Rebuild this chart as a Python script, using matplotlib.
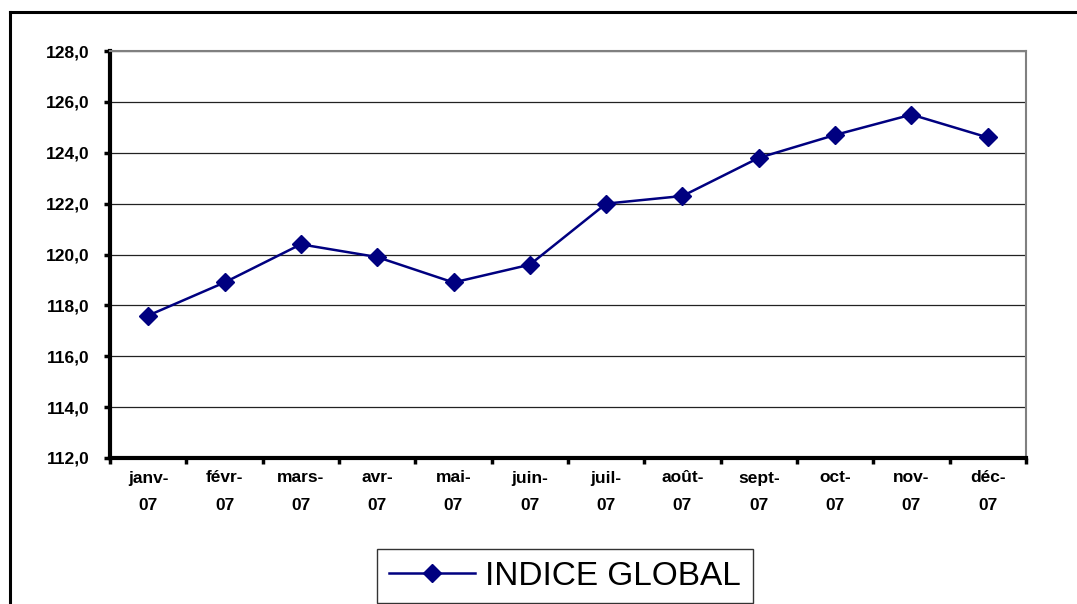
import matplotlib
matplotlib.use("Agg")
import matplotlib.pyplot as plt
from matplotlib.lines import Line2D
import numpy as np

MONTHS = ["janv-\n07", "févr-\n07", "mars-\n07", "avr-\n07", "mai-\n07", "juin-\n07",
          "juil-\n07", "août-\n07", "sept-\n07", "oct-\n07", "nov-\n07", "déc-\n07"]
INDICE_GLOBAL = [117.6, 118.9, 120.4, 119.9, 118.9, 119.6,
                 122.0, 122.3, 123.8, 124.7, 125.5, 124.6]
Y_TICKS = [112, 114, 116, 118, 120, 122, 124, 126, 128]

NAVY = "#000080"

plt.rcParams["font.family"] = ["Liberation Sans", "DejaVu Sans"]

fig = plt.figure(figsize=(10.77, 6.04), dpi=100)
ax = fig.add_axes([110 / 1077, 1 - 458 / 604, 916 / 1077, 407 / 604])

x = np.arange(len(MONTHS))
ax.plot(x, INDICE_GLOBAL, color=NAVY, lw=1.8, marker="D", markersize=9,
        markeredgecolor=NAVY, markerfacecolor=NAVY, label="INDICE GLOBAL", zorder=3)

ax.set_xlim(-0.5, len(MONTHS) - 0.5)
ax.set_ylim(112, 128)

# y axis
ax.set_yticks(Y_TICKS)
ax.set_yticklabels([f"{v:.1f}".replace(".", ",") for v in Y_TICKS],
                   fontweight="bold", fontsize=12.5)
ax.yaxis.grid(True, color="#222222", lw=0.9)
ax.set_axisbelow(True)

# x axis: tick marks between categories, labels centered
ax.set_xticks(np.arange(len(MONTHS) + 1) - 0.5)
ax.set_xticklabels([])
ax.set_xticks(x, minor=True)
ax.set_xticklabels(MONTHS, minor=True, fontweight="bold", fontsize=12.5,
                   linespacing=2.0)
ax.tick_params(axis="x", which="minor", length=0, pad=9)
ax.tick_params(axis="x", which="major", length=4, width=2.5, color="black")
ax.tick_params(axis="y", length=4, width=2.5, pad=11)

for side in ("left", "bottom"):
    ax.spines[side].set_linewidth(3)
    ax.spines[side].set_color("black")
for side in ("top", "right"):
    ax.spines[side].set_linewidth(1.5)
    ax.spines[side].set_color("#808080")

# legend
leg = fig.legend(loc="upper center", bbox_to_anchor=(565 / 1077, 1 - 549 / 604),
                 fontsize=24, frameon=True, fancybox=False, handlelength=2.6,
                 handletextpad=0.3, borderpad=0.35, borderaxespad=0)
leg.get_frame().set_edgecolor("black")
leg.get_frame().set_linewidth(1.0)

# outer chart border (left and top edges visible)
fig.add_artist(Line2D([10 / 1077, 10 / 1077], [0, 1 - 12 / 604], color="black",
                      lw=2.2, transform=fig.transFigure))
fig.add_artist(Line2D([10 / 1077, 1], [1 - 12 / 604, 1 - 12 / 604], color="black",
                      lw=2.2, transform=fig.transFigure))

fig.savefig("out.png", dpi=100)
